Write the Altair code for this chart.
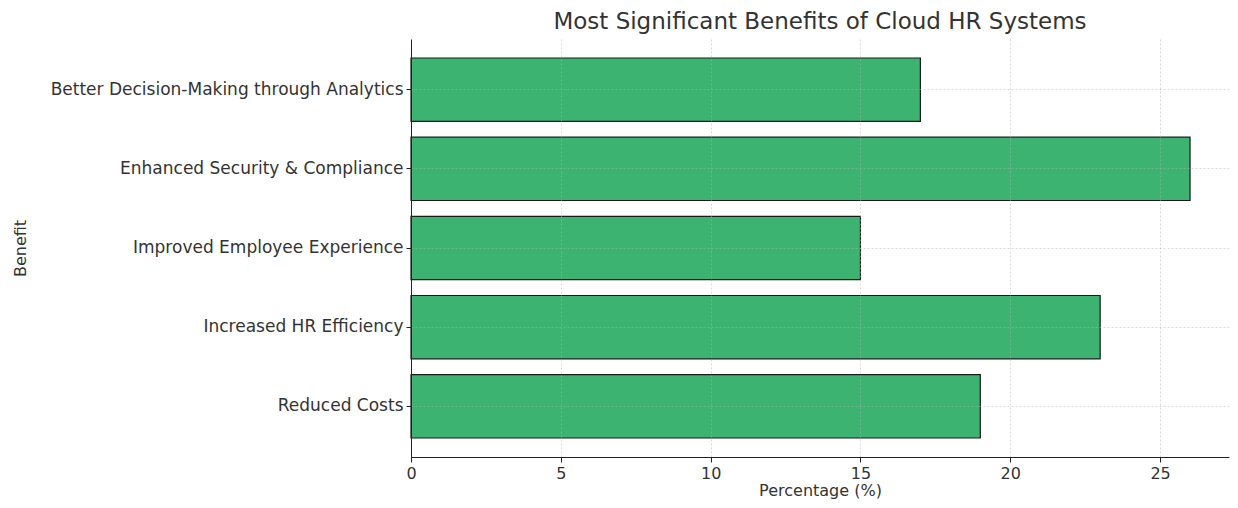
import altair as alt
import pandas as pd

benefits = [
    "Better Decision-Making through Analytics",
    "Enhanced Security & Compliance",
    "Improved Employee Experience",
    "Increased HR Efficiency",
    "Reduced Costs",
]
percentages = [17, 26, 15, 23, 19]

df = pd.DataFrame({"Benefit": benefits, "Percentage": percentages})

FONT = "DejaVu Sans"
W, H = 818, 418

chart = (
    alt.Chart(df)
    .mark_bar(color="#3CB371", stroke="#1a1a1a", strokeWidth=1.2)
    .encode(
        x=alt.X(
            "Percentage:Q",
            title="Percentage (%)",
            scale=alt.Scale(domain=[0, 27.3], nice=False, zero=True),
            axis=alt.Axis(values=[0, 5, 10, 15, 20, 25], format="d", zindex=1,
                          labelFlush=False),
        ),
        y=alt.Y(
            "Benefit:N",
            title="Benefit",
            sort=benefits,
            scale=alt.Scale(paddingInner=0.2, paddingOuter=0.24),
            axis=alt.Axis(grid=True, bandPosition=0.5, zindex=1,
                          labelFontSize=17,
                          titleX=-391, titleY=H / 2, titleAngle=270,
                          titleAlign="center", titleBaseline="middle"),
        ),
    )
    .properties(
        width=W,
        height=H,
        title=alt.TitleParams(
            "Most Significant Benefits of Cloud HR Systems",
            fontSize=23,
            font=FONT,
            fontWeight="normal",
            color="#333333",
            anchor="middle",
            offset=5,
        ),
        autosize=alt.AutoSizeParams(type="none"),
        padding={"left": 403, "top": 31, "right": 1, "bottom": 42},
    )
    .configure_view(stroke=None)
    .configure_axis(
        labelFont=FONT,
        titleFont=FONT,
        labelFontSize=16,
        titleFontSize=16,
        labelColor="#333333",
        titleColor="#333333",
        titleFontWeight="normal",
        domainColor="#222222",
        domainWidth=1,
        tickColor="#222222",
        tickSize=5,
        gridColor="#b0b0b0",
        gridOpacity=0.6,
        gridDash=[2, 2],
        gridWidth=0.8,
    )
    .configure_axisX(labelPadding=3, titlePadding=1)
    .configure_axisY(labelPadding=3, labelLimit=500)
)

chart.save("out.html", embed_options={"renderer": "svg", "actions": False})
